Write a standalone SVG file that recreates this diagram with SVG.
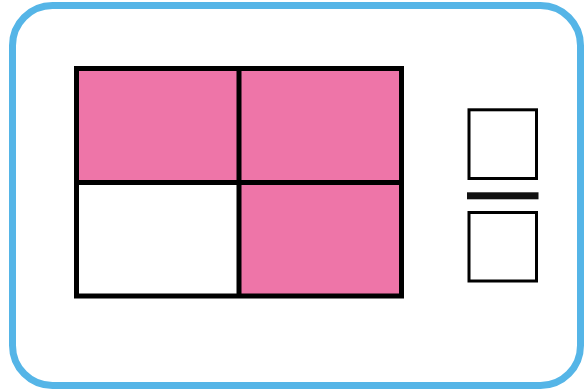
<svg xmlns="http://www.w3.org/2000/svg" width="584" height="390" viewBox="0 0 584 390">
<style>
.pink{fill:#EE75A8}
.grid{fill:none;stroke:#000;stroke-width:5}
.box{fill:#fff;stroke:#000;stroke-width:3}
</style>
<rect width="584" height="390" fill="#fff"/>
<g id="card">
<rect x="12.5" y="5.5" width="568" height="380" rx="40" ry="40" fill="#fff" stroke="#55B5E7" stroke-width="7"/>
</g>
<g id="grid">
<rect class="pink" x="76.5" y="68.5" width="162.5" height="114"/>
<rect class="pink" x="239" y="68.5" width="162.5" height="114"/>
<rect class="pink" x="239" y="182.5" width="162.5" height="113.5"/>
<rect class="grid" x="76.5" y="68.5" width="325" height="227.5"/>
<line class="grid" x1="239" y1="68.5" x2="239" y2="296"/>
<line class="grid" x1="76.5" y1="182.5" x2="401.5" y2="182.5"/>
</g>
<g id="fraction">
<rect class="box" x="469" y="109.8" width="67.5" height="68.7"/>
<rect x="467" y="192.3" width="71.5" height="7" fill="#111"/>
<rect class="box" x="469" y="212.5" width="67.5" height="68.5"/>
</g>
</svg>
